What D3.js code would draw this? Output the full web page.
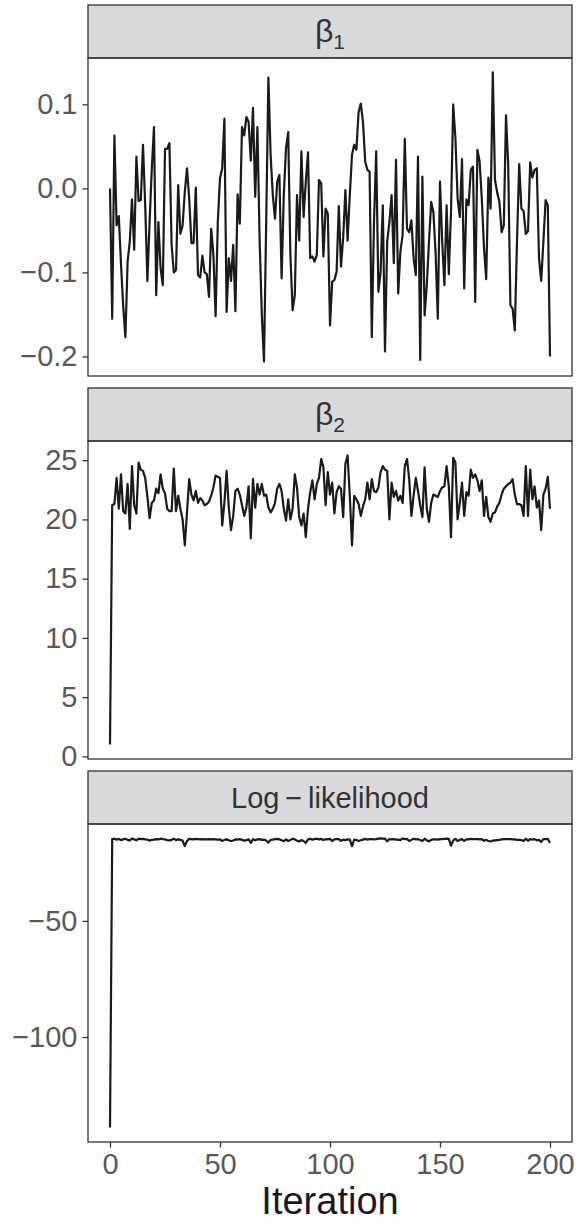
<!DOCTYPE html>
<html lang="en">
<head>
<meta charset="UTF-8">
<title>Trace plots</title>
<script src="https://d3js.org/d3.v7.min.js"></script>
<style>
  body { margin: 0; background: #fff; }
  svg { display: block; font-family: "Liberation Sans", Arial, sans-serif; }
  .tick-label { fill: #595959; font-size: 29px; }
  .strip-label { fill: #333; font-size: 29px; }
</style>
</head>
<body>
<div id="chart"></div>
<script>
// iteration index 0..200
const iterations = d3.range(0, 201);

const beta1 = [
  0.0, -0.155, 0.063, -0.044, -0.033, -0.09, -0.14, -0.177, -0.087, -0.063,
  -0.013, -0.073, 0.038, -0.015, -0.014, 0.052, -0.02, -0.11, -0.04, 0.024,
  0.073, -0.127, -0.04, -0.095, -0.115, 0.047, 0.047, 0.054, -0.067, -0.1,
  -0.097, 0.004, -0.054, -0.044, -0.004, 0.024, -0.012, -0.065, -0.065, 0.001,
  -0.103, -0.106, -0.08, -0.1, -0.102, -0.129, -0.048, -0.079, -0.152, -0.04,
  0.012, 0.024, 0.083, -0.147, -0.083, -0.11, -0.067, -0.146, -0.007, -0.042,
  0.073, 0.063, 0.085, 0.079, 0.033, 0.096, -0.01, 0.073, -0.06, -0.15,
  -0.206, -0.04, 0.132, 0.04, -0.008, -0.036, 0.008, 0.016, -0.107, -0.008,
  0.048, 0.067, -0.079, -0.145, -0.127, -0.008, -0.062, 0.044, -0.034, 0.008,
  0.043, -0.083, -0.081, -0.087, -0.079, 0.01, 0.006, -0.081, -0.024, -0.03,
  -0.163, -0.111, -0.109, -0.099, -0.021, -0.093, -0.058, -0.002, -0.062, -0.008,
  0.04, 0.052, 0.046, 0.091, 0.101, 0.079, 0.032, 0.022, 0.02, -0.177,
  -0.04, 0.044, -0.123, -0.099, -0.02, -0.194, -0.063, -0.04, -0.008, -0.089,
  0.034, -0.125, -0.075, -0.056, 0.059, -0.048, -0.052, -0.038, -0.083, -0.103,
  0.038, -0.204, 0.014, -0.151, -0.115, -0.063, -0.016, -0.028, -0.077, -0.155,
  0.008, -0.063, -0.115, -0.02, -0.102, -0.028, 0.1, 0.06, -0.012, -0.034,
  0.035, -0.119, -0.013, -0.02, 0.022, 0.026, -0.135, 0.046, 0.032, -0.012,
  -0.071, -0.108, 0.013, -0.024, 0.138, 0.01, -0.005, -0.016, -0.052, -0.044,
  0.087, 0.028, -0.139, -0.143, -0.169, -0.063, 0.029, -0.024, -0.027, -0.054,
  -0.051, 0.031, 0.013, 0.022, 0.024, -0.083, -0.11, -0.063, -0.014, -0.02,
  -0.2
];

const beta2 = [
  1.0, 21.2, 21.3, 23.5, 20.9, 23.8, 20.7, 20.5, 23.0, 19.2,
  24.5, 21.2, 20.5, 24.8, 24.2, 24.1, 23.5, 21.9, 20.1, 21.4,
  21.6, 22.6, 22.2, 23.8, 22.6, 22.2, 20.9, 20.7, 20.7, 24.3,
  20.7, 22.0, 20.9, 20.0, 17.8, 20.6, 23.4, 22.1, 21.6, 22.4,
  21.4, 21.8, 21.6, 21.2, 21.3, 21.5, 22.0, 22.7, 23.7, 23.6,
  23.5, 19.5, 21.4, 24.1, 21.0, 19.1, 20.3, 22.4, 22.6, 22.1,
  21.2, 20.3, 21.0, 22.8, 18.4, 23.4, 21.0, 23.0, 22.1, 23.0,
  22.0, 22.1, 21.0, 20.6, 20.9, 21.4, 22.6, 23.0, 22.4, 20.9,
  19.9, 21.7, 20.0, 20.9, 23.8, 22.7, 20.2, 19.5, 20.5, 18.5,
  20.9, 22.3, 23.3, 21.7, 23.0, 23.5, 25.1, 24.4, 21.2, 24.0,
  22.1, 23.1, 20.5, 22.3, 22.8, 22.6, 20.2, 24.7, 25.4, 22.0,
  17.8, 22.0, 21.7, 21.3, 20.3, 21.1, 21.7, 23.1, 21.7, 23.4,
  22.4, 22.3, 22.7, 24.0, 24.5, 24.2, 24.1, 20.0, 23.1, 21.9,
  22.4, 21.6, 22.0, 21.4, 24.5, 25.1, 23.4, 20.3, 22.0, 23.5,
  22.4, 21.2, 20.2, 24.4, 20.9, 19.8, 21.4, 22.1, 22.0, 21.9,
  22.4, 22.7, 22.8, 24.5, 22.8, 18.5, 25.2, 24.8, 20.0, 21.4,
  23.1, 20.3, 22.3, 22.0, 24.2, 23.5, 23.8, 23.3, 22.4, 23.3,
  20.3, 21.9, 20.2, 19.8, 20.5, 20.6, 21.1, 21.4, 22.1, 22.6,
  22.8, 23.0, 23.1, 23.4, 22.1, 21.3, 21.3, 21.2, 20.3, 24.5,
  20.3, 24.2, 21.7, 22.8, 21.0, 21.6, 19.1, 22.1, 22.6, 23.6,
  20.9
];

const logLik = [
  -139.0, -14.8, -14.6, -15.0, -14.7, -15.2, -14.9, -14.6, -15.1, -15.4,
  -14.5, -14.9, -15.3, -14.6, -14.8, -14.7, -14.9, -15.0, -15.4, -15.1,
  -15.0, -14.8, -14.9, -14.6, -14.8, -14.9, -15.2, -15.3, -15.1, -14.6,
  -15.2, -14.9, -15.1, -15.4, -17.8, -15.6, -14.7, -14.8, -14.9, -14.7,
  -14.8, -14.9, -14.8, -14.9, -14.9, -14.8, -14.9, -14.8, -14.9, -15.0,
  -14.9, -15.6, -15.1, -14.9, -15.3, -15.6, -15.4, -14.9, -15.0, -14.8,
  -15.1, -15.5, -15.2, -14.9, -16.4, -14.8, -15.3, -14.9, -14.8, -15.1,
  -15.0, -15.4, -16.3, -15.1, -15.0, -14.8, -14.7, -14.9, -15.3, -15.7,
  -14.9, -15.6, -15.2, -14.6, -14.9, -15.5, -15.8, -15.2, -15.6, -16.4,
  -14.9, -14.7, -15.0, -14.8, -14.6, -14.9, -14.7, -15.2, -14.8, -14.9,
  -14.7, -15.6, -14.9, -14.8, -14.8, -15.5, -15.0, -15.2, -14.9, -15.0,
  -17.8, -15.0, -15.2, -15.6, -15.3, -15.0, -14.7, -15.0, -14.8, -14.8,
  -14.9, -14.8, -14.6, -14.5, -14.6, -14.6, -15.7, -14.8, -14.9, -14.8,
  -15.0, -15.0, -15.2, -14.5, -14.8, -14.7, -15.6, -15.1, -14.6, -14.9,
  -14.8, -15.2, -15.6, -14.6, -15.3, -15.8, -15.1, -14.9, -14.9, -15.0,
  -14.8, -14.8, -14.7, -14.6, -14.7, -17.6, -15.3, -14.7, -15.6, -15.1,
  -14.8, -15.5, -14.9, -14.9, -14.7, -14.8, -14.8, -14.8, -14.9, -14.8,
  -15.5, -15.1, -15.6, -15.8, -15.4, -15.3, -15.2, -15.1, -14.9, -14.8,
  -14.8, -14.8, -14.8, -14.9, -14.9, -15.1, -15.1, -15.2, -15.6, -14.6,
  -15.5, -14.8, -15.0, -14.8, -15.3, -15.1, -16.0, -14.8, -14.8, -14.7,
  -16.4
];

const xTicks = [0, 50, 100, 150, 200];
const yTicks1 = [0.1, 0.0, -0.1, -0.2];
const yTicks2 = [0, 5, 10, 15, 20, 25];
const yTicks3 = [-50, -100];

const panels = [
  { values: beta1, ticks: yTicks1, fmt: d3.format(".1f"), sub: "1" },
  { values: beta2, ticks: yTicks2, fmt: d3.format("d"), sub: "2" },
  { values: logLik, ticks: yTicks3, fmt: d3.format("d"), label: "Log\u2009\u2212\u2009likelihood" }
];

const width = 578, height = 1226;
const left = 88, right = 572;
const firstTop = 5, stripH = 53, plotH = 318, gap = 12;
const ink = "#333333";

const svg = d3.select("#chart").append("svg")
  .attr("width", width)
  .attr("height", height);

const x = d3.scaleLinear().domain([-10, 210]).range([left, right]);

panels.forEach((p, k) => {
  const stripTop = firstTop + k * (stripH + plotH + gap);
  const plotTop = stripTop + stripH;
  const plotBottom = plotTop + plotH;

  // ggplot-style 5% expansion of the data range
  const [lo, hi] = d3.extent(p.values);
  const pad = (hi - lo) * 0.05;
  const y = d3.scaleLinear().domain([lo - pad, hi + pad]).range([plotBottom, plotTop]);

  const g = svg.append("g");

  // strip
  g.append("rect")
    .attr("x", left).attr("y", stripTop)
    .attr("width", right - left).attr("height", stripH)
    .attr("fill", "#d9dadc").attr("stroke", ink).attr("stroke-width", 1.3);

  const st = g.append("text")
    .attr("class", "strip-label")
    .attr("x", (left + right) / 2)
    .attr("y", stripTop + stripH / 2 + 10)
    .attr("text-anchor", "middle");
  if (p.sub) {
    st.append("tspan").attr("font-size", "32px").text("\u03B2");
    st.append("tspan").attr("font-size", "21px").attr("dy", 7).text(p.sub);
  } else {
    st.text(p.label);
  }

  // trace line
  const line = d3.line()
    .x((d, i) => x(iterations[i]))
    .y(d => y(d));

  g.append("path")
    .datum(p.values)
    .attr("d", line)
    .attr("fill", "none")
    .attr("stroke", "#1a1a1a")
    .attr("stroke-width", 2.2)
    .attr("stroke-linejoin", "round");

  // panel border
  g.append("rect")
    .attr("x", left).attr("y", plotTop)
    .attr("width", right - left).attr("height", plotH)
    .attr("fill", "none").attr("stroke", ink).attr("stroke-width", 1.3);

  // y axis
  const yAxis = d3.axisLeft(y).tickValues(p.ticks).tickFormat(p.fmt).tickSize(5.5).tickPadding(5);
  const ya = g.append("g").attr("transform", `translate(${left},0)`).call(yAxis);
  ya.select(".domain").remove();
  ya.selectAll(".tick line").attr("stroke", ink).attr("stroke-width", 1.3);
  ya.selectAll(".tick text").attr("class", "tick-label").attr("font-size", null).attr("font-family", null).attr("fill", null);

  // x axis on the bottom panel only
  if (k === panels.length - 1) {
    const xAxis = d3.axisBottom(x).tickValues(xTicks).tickFormat(d3.format("d")).tickSize(5.5).tickPadding(6);
    const xa = g.append("g").attr("transform", `translate(0,${plotBottom})`).call(xAxis);
    xa.select(".domain").remove();
    xa.selectAll(".tick line").attr("stroke", ink).attr("stroke-width", 1.3);
    xa.selectAll(".tick text").attr("class", "tick-label").attr("font-size", null).attr("font-family", null).attr("fill", null);

    g.append("text")
      .attr("x", (left + right) / 2)
      .attr("y", plotBottom + 72)
      .attr("text-anchor", "middle")
      .attr("fill", "#1a1a1a")
      .attr("font-size", "38px")
      .text("Iteration");
  }
});
</script>
</body>
</html>
